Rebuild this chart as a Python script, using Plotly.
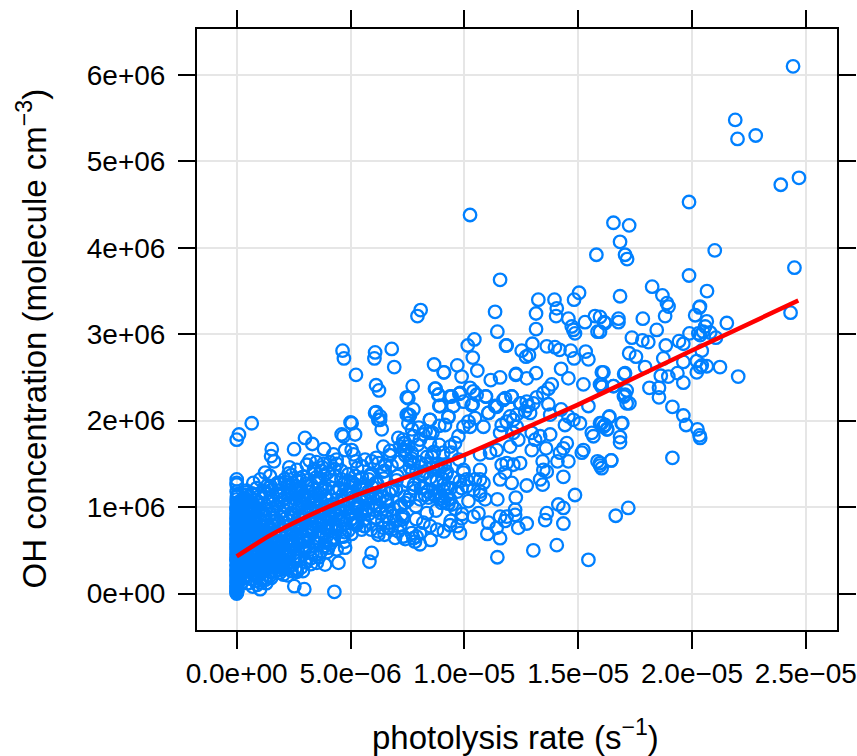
import plotly.graph_objects as go

# values in units of 1e-6 s-1 (rate) and 1e6 molecule cm-3 (OH)
rate_high = [24.44,21.9,22.0,22.8,23.9,24.7,19.87,16.55,17.24,16.84,17.06,17.15,21.0,24.5,19.87,15.8,18.25,18.7,18.9,18.97,16.84,20.66,20.35,
24.33,21.53,20.33,20.14,20.65,20.58,19.89,20.28,20.49,20.8,21.05,20.36,18.82,18.45,17.84,16.77,16.77,16.18,15.96,15.96,17.36,17.82,18.08,17.24,17.54,18.85,19.43,19.62,20.43,18.74,17.94,17.06,16.11,19.62,20.21,20.43,20.65,21.23,22.03,20.21,20.36,19.36,18.96,18.63,19.62,18.13,18.55,18.55,16.55,17.13,17.01,17.25,16.03,19.14,19.62,19.74,20.24,20.33,20.36,16.94,16.36,16.18,16.28,16.03,16.84,16.84,19.14,16.45,15.96,16.03]
oh_high = [6.10,5.48,5.26,5.30,4.73,4.81,4.53,4.29,4.26,4.07,3.92,3.87,3.97,3.77,3.68,3.92,3.55,3.45,3.36,3.32,3.44,3.50,3.32,
3.25,3.13,3.31,3.22,3.15,3.09,3.01,3.01,3.03,3.02,2.96,2.99,3.21,3.05,3.18,3.18,3.14,3.13,3.03,3.20,2.96,2.93,2.91,2.78,2.74,2.87,2.92,2.89,2.81,2.72,2.62,2.55,2.56,2.68,2.69,2.64,2.63,2.62,2.51,2.56,2.62,2.55,2.51,2.52,2.44,2.38,2.38,2.27,2.40,2.35,2.28,2.20,2.42,2.16,2.06,1.95,1.90,1.83,1.80,1.97,2.04,1.95,1.90,1.97,1.81,1.75,1.57,1.54,1.51,1.45]

rate_mid = [15.04,14.82,13.25,13.96,14.06,14.03,13.15,13.15,11.35,11.45,14.57,14.72,14.79,14.86,15.3,15.74,15.85,16.14,11.86,10.44,10.15,10.37,10.57,9.88,9.69,9.09,8.67,7.73,8.08,7.94,11.57,12.99,12.52,12.84,12.71,13.62,13.98,14.18,14.67,14.82,15.33,15.45,14.25,14.57,15.23,16.04,15.96,16.04,16.55,17.02,17.06,17.13,13.15,12.74,12.26,11.57,11.16,13.84,13.69,13.47,13.18,12.08,11.79,10.95,10.25,10.54,9.78,9.37,8.74,8.86,8.9,9.52,10.37,11.35,11.06,12.48,12.74,12.81,13.03,12.67,12.89,12.30,12.01,13.69,13.77,14.25,15.45,7.54,7.76,7.61,8.49,9.30,9.15,10.47,10.18,9.96,10.25,10.84,11.64,11.86,12.15,12.30,11.57,12.15,12.96,13.11,13.33,13.77,14.42,14.57,14.79,15.08,15.6,15.67,15.96,16.11,16.26,16.37,16.91,14.5,14.35,14.2,13.59,12.96,15.23,15.16,14.57,14.09,13.44,13.47,13.62,14.35,13.33,13.44,12.74,15.85,15.96,16.45,14.86,12.26,11.45,14.13,14.35,13.62,13.55,14.35,12.74,12.23,12.23,11.86,11.57,12.37,11.79,11.06,11.01,11.42,11.57,11.45,13.03,14.06,15.45,16.65,17.2]
oh_mid = [3.48,3.40,3.40,3.40,3.30,3.21,3.24,3.06,3.26,3.03,3.18,3.09,3.05,3.01,3.14,3.21,3.03,3.14,2.87,2.94,2.87,2.73,2.58,2.51,2.64,2.56,2.65,2.40,3.28,3.21,3.63,2.89,2.81,2.76,2.74,2.86,2.85,2.82,2.81,2.72,2.80,2.71,2.60,2.49,2.42,2.56,2.42,2.39,2.40,2.54,2.30,2.20,2.55,2.49,2.53,2.50,2.47,2.42,2.37,2.32,2.27,2.28,2.26,2.28,2.38,2.30,2.31,2.28,2.37,2.30,2.17,2.17,2.19,2.17,2.09,2.20,2.22,2.17,2.20,2.11,2.09,2.07,2.05,2.19,2.07,2.13,2.17,2.26,2.13,2.06,2.01,2.04,1.95,2.03,1.99,1.93,1.93,1.93,1.95,1.99,2.01,1.93,1.86,1.86,1.86,1.78,1.82,1.84,1.95,2.05,2.01,1.97,1.86,1.82,1.97,1.93,1.90,2.05,1.97,1.74,1.68,1.63,1.68,1.66,1.66,1.63,1.53,1.53,1.53,1.43,1.41,1.35,1.32,1.26,1.25,1.53,1.48,1.54,1.14,1.11,1.09,1.03,0.99,0.93,0.85,0.81,0.81,0.97,0.91,0.89,0.89,0.76,0.84,0.82,0.69,0.76,0.64,0.42,0.50,0.56,0.39,0.90,0.99]

rate_cluster = [9.0,8.85,9.08,9.23,8.9,9.1,9.37,8.7,9.0,9.45,9.88,9.96,10.1,10.69,10.69,10.47,10.84,10.69,10.91,10.18,9.88,9.37,9.81,10.4,10.62,8.35,7.88,8.52,8.05,7.83,7.69,8.05,7.32,7.76,7.9,7.61,8.05,8.27,7.39,7.18,7.32,11.86,12.15,12.45,11.64,11.79,12.08,11.57,11.13,10.69,11.42,12.01,12.37,9.59,9.74,9.37,9.08,8.9,8.49,8.2,8.05,8.49,7.76,7.32,8.64,7.69,7.61,7.39,7.76,8.79,9.23,9.08,8.79,9.96,10.69,7.76,8.2]
oh_cluster = [1.13,1.17,1.19,1.13,1.09,1.07,1.09,1.13,1.05,1.03,1.22,1.40,1.32,1.43,1.32,1.32,1.28,1.14,1.09,1.07,0.87,0.79,0.70,0.89,0.93,0.93,0.86,0.62,0.57,0.60,0.70,0.70,0.66,0.64,0.66,1.13,1.09,1.14,1.05,1.01,0.89,1.51,1.49,1.51,1.49,1.40,1.28,1.32,1.63,1.61,1.66,1.70,1.78,1.74,1.82,1.70,1.63,1.72,1.86,1.84,1.78,1.74,1.82,1.78,1.63,1.63,1.53,1.66,1.51,1.49,1.41,1.32,1.32,1.43,1.18,1.22,1.22]

rate_upper = [10.25,11.83,4.65,4.71,5.24,6.08,6.05,6.81,6.92,9.11,12.27,6.12,6.25,8.71,8.86,7.47,6.12,6.3,7.54,5.0,8.49,9.3,10.4,9.44,9.81,8.93,9.96,10.32,10.94,11.71,12.08,12.45,11.05,11.42]
oh_upper = [4.38,2.87,2.81,2.72,2.53,2.79,2.72,2.83,2.62,2.56,2.54,2.41,2.35,2.37,2.30,2.27,2.10,2.05,2.07,1.98,2.01,2.05,2.34,2.28,2.32,2.17,2.22,2.18,2.28,2.24,2.28,2.20,2.09,2.16]

rate_left = [0.66,0.1,0.0,0.0,0.0,0.0,0.0,0.73,0.88,1.25,1.03,1.54,1.51,1.64,3.0,3.32,2.52,3.84,2.31,3.08,2.64,3.76,4.25,4.39,4.61,4.69,5.05,5.2,4.76,5.05,5.13,5.64,5.93,6.22,6.52,6.08,6.3,6.22,6.44,6.74,7.1,7.32,7.18,7.54,7.47,7.54,6.37,
4.29,2.97,2.53,1.03,2.64,2.05,5.83,5.93,4.47,3.88,3.52,3.0,4.76,4.39,6.96,7.4,6.22,6.44,6.66,6.59,6.15,7.32,5.49,5.64,5.2,5.27,4.69,3.81,3.95,4.25,3.88,4.54,3.08,2.93,3.22,2.56,2.2,1.9,2.05]
oh_left = [1.97,1.84,1.78,1.32,1.26,1.28,1.09,1.28,1.22,1.40,1.32,1.67,1.59,1.53,1.80,1.73,1.67,1.67,1.46,1.49,1.43,1.46,1.61,1.55,1.84,1.82,1.97,1.84,1.66,1.66,1.61,1.55,1.53,1.51,1.49,2.09,2.01,2.01,1.70,1.65,1.80,1.74,1.70,1.70,2.07,1.97,1.90,
0.02,0.05,0.085,0.05,0.25,0.22,0.37,0.47,0.355,0.335,0.355,0.37,0.53,0.51,0.645,0.63,0.68,0.76,0.76,0.89,1.02,0.89,0.74,0.78,0.82,0.99,0.66,0.84,0.66,0.62,0.59,0.78,0.68,0.51,0.51,0.51,0.47,0.36,0.28]

rate_column = [0.0,0.01,0.0,0.02,0.0,0.03,0.01,0.0,0.05,0.02,0.0,0.04,0.01,0.0,0.08,0.03,0.0,0.05,0.02,0.0,0.1,0.01,0.0,0.06,0.03,0.0,0.12,0.02,0.0,0.07,0.04,0.0,0.09,0.01,0.0,0.15,0.03,0.0,0.05,0.02,0.0,0.11,0.06,0.0,0.02,0.08,0.0,0.04,0.13,0.0,0.03,0.07,0.0,0.16,0.01,0.05,0.0,0.09,0.02,0.0,0.2,0.18,0.22,0.25,0.3,0.28,0.33,0.19,0.24,0.27,0.31,0.21,0.35,0.26,
0.0,0.02,0.0,0.01,0.03,0.0,0.01,0.04,0.0,0.02,0.0,0.05,0.01,0.0,0.03,0.0,0.02,0.06,0.0,0.01,0.0,0.04,0.02,0.0,0.03,0.01,0.0,0.07,0.0,0.02,0.01,0.0,0.05,0.0,0.03,0.01,0.0,0.02,0.06,0.0,0.04,0.01,0.0,0.02,0.0,0.03,0.08,0.0,0.01,0.0]
oh_column = [0.0,0.02,0.04,0.06,0.09,0.11,0.13,0.15,0.17,0.19,0.21,0.23,0.25,0.27,0.29,0.31,0.33,0.35,0.37,0.39,0.41,0.43,0.45,0.47,0.49,0.51,0.53,0.55,0.57,0.59,0.61,0.63,0.65,0.67,0.69,0.71,0.73,0.75,0.77,0.79,0.81,0.83,0.85,0.87,0.89,0.91,0.93,0.95,0.97,0.99,1.01,1.03,1.05,1.07,1.12,1.15,1.18,0.14,0.03,0.08,0.12,0.22,0.31,0.40,0.52,0.62,0.72,0.84,0.93,1.01,0.18,0.58,0.78,1.09,
0.01,0.03,0.05,0.07,0.1,0.12,0.14,0.16,0.18,0.2,0.22,0.24,0.26,0.28,0.3,0.32,0.34,0.36,0.38,0.4,0.42,0.44,0.46,0.48,0.5,0.52,0.54,0.56,0.58,0.6,0.62,0.64,0.66,0.68,0.7,0.72,0.74,0.76,0.78,0.8,0.82,0.84,0.86,0.88,0.9,0.92,0.94,0.96,0.98,1.0]

rate_low = [0.5,0.7,0.9,0.6,0.8,1.1,1.3,0.55,0.75,1.0,1.2,1.45,0.65,0.85,1.05,1.25,1.5,1.7,0.5,0.7,0.95,1.15,1.4,1.6,1.85,0.6,0.8,1.0,1.3,1.55,1.8,2.0,0.55,0.75,1.1,1.35,1.65,1.9,2.15,0.5,0.7,0.9,1.2,1.5,1.75,2.05,2.3,0.6,0.85,1.15,1.45,1.7,1.95,2.25,2.5,0.55,0.8,1.05,1.35,1.6,1.9,2.2,2.45,2.7,0.65,0.95,1.25,1.55,1.85,2.1,2.4,2.65,2.9,0.7,1.0,1.3,1.6,1.95,2.3,2.6,2.85,3.1,1.1,1.4,1.75,2.1,2.45,2.75,3.05,3.35,1.2,1.6,2.0,2.35,2.7,3.0,3.3,3.6,1.5,1.9,2.25,2.6,2.95,3.25,3.55,3.85,1.8,2.2,2.55,2.85,3.15,3.45,3.75,4.05,2.1,2.45,2.8,3.1,3.4,3.7,4.0,4.3,2.4,2.75,3.05,3.35,3.65,3.95,4.25,4.55]
oh_low = [0.12,0.08,0.1,0.25,0.22,0.16,0.12,0.36,0.33,0.29,0.26,0.2,0.45,0.42,0.38,0.34,0.3,0.26,0.55,0.53,0.48,0.44,0.4,0.36,0.32,0.64,0.61,0.57,0.52,0.48,0.44,0.38,0.72,0.69,0.64,0.6,0.56,0.52,0.44,0.8,0.77,0.73,0.69,0.65,0.61,0.56,0.5,0.86,0.83,0.78,0.74,0.7,0.66,0.61,0.56,0.93,0.9,0.86,0.82,0.78,0.73,0.68,0.64,0.58,0.99,0.95,0.91,0.87,0.82,0.78,0.73,0.69,0.62,1.05,1.02,0.98,0.94,0.89,0.84,0.79,0.75,0.68,1.1,1.06,1.01,0.96,0.91,0.86,0.81,0.74,1.18,1.13,1.08,1.03,0.98,0.93,0.88,0.8,1.24,1.19,1.14,1.09,1.04,0.98,0.93,0.86,1.28,1.24,1.19,1.13,1.08,1.03,0.97,0.9,1.32,1.28,1.23,1.18,1.12,1.07,1.01,0.94,1.37,1.33,1.27,1.22,1.16,1.1,1.04,0.98]

rate_fill = [0.31,0.47,0.38,0.62,0.44,0.29,0.53,0.71,0.36,0.58,0.83,0.42,0.67,0.94,0.33,0.51,0.77,1.02,0.46,0.64,0.89,1.13,0.37,0.56,0.79,1.07,1.26,0.41,0.69,0.92,1.18,1.37,0.34,0.59,0.84,1.09,1.33,1.52,0.48,0.73,0.97,1.22,1.47,1.68,0.39,0.63,0.88,1.16,1.41,1.62,1.83,0.52,0.78,1.04,1.29,1.57,1.79,2.02,0.43,0.68,0.93,1.21,1.49,1.73,1.97,2.22,0.57,0.82,1.12,1.38,1.66,1.91,2.17,2.41,0.74,1.01,1.31,1.59,1.87,2.12,2.37,2.63,0.86,1.17,1.44,1.76,2.04,2.31,2.58,2.83,1.27,1.63,1.94,2.27,2.52,2.79,3.04,1.54,1.82,2.16,2.48,2.74,2.98,3.27,1.71,2.08,2.39,2.67,2.93,3.19,3.47,2.28,2.59,2.87,3.13,3.42,3.71,2.44,2.76,3.02,3.29,3.58,3.88,2.66,2.96,3.23,3.52,3.81,4.12,3.11,3.37,3.67,3.94,4.23,3.48,3.77,4.07,4.36,4.63,3.59,3.92,4.18,4.47,4.74,1.35,1.74,2.13,2.56,2.91,3.24,3.63,1.46,1.88,2.29,2.71,3.09,3.44,3.86,4.21]
oh_fill = [0.19,0.27,0.41,0.17,0.59,0.67,0.31,0.23,0.74,0.47,0.15,0.83,0.39,0.21,0.89,0.56,0.28,0.13,0.96,0.63,0.44,0.18,1.03,0.71,0.51,0.24,0.16,1.08,0.79,0.35,0.29,0.21,1.11,0.86,0.57,0.41,0.33,0.25,0.98,0.75,0.62,0.46,0.37,0.31,1.14,0.92,0.68,0.53,0.42,0.35,0.27,1.06,0.84,0.72,0.58,0.46,0.39,0.3,1.17,0.96,0.77,0.63,0.51,0.43,0.34,0.29,1.12,0.88,0.7,0.57,0.47,0.41,0.33,0.26,1.01,0.85,0.67,0.53,0.45,0.39,0.32,0.27,1.08,0.91,0.76,0.59,0.5,0.43,0.38,0.3,1.15,0.83,0.69,0.56,0.47,0.42,0.36,1.2,1.04,0.87,0.71,0.6,0.52,0.41,1.26,1.1,0.93,0.78,0.65,0.54,0.45,1.19,1.02,0.85,0.72,0.6,0.49,1.25,1.08,0.92,0.77,0.64,0.55,1.3,1.14,0.99,0.83,0.7,0.58,1.24,1.07,0.89,0.75,0.62,1.34,1.19,0.96,0.8,0.66,1.29,1.13,1.0,0.86,0.71,1.25,1.16,1.29,1.21,1.35,1.12,1.33,1.36,1.27,1.39,1.19,1.31,1.41,1.37,1.22]

rate_extra = [0.42,0.66,0.97,1.24,1.58,1.93,2.26,2.61,2.94,3.28,3.57,3.89,4.16,4.52,4.84,5.11,5.42,5.78,0.51,0.81,1.14,1.47,1.72,2.07,2.43,2.72,3.07,3.38,3.74,4.03,4.34,4.68,4.97,5.33,5.66,5.99,0.36,0.72,1.06,1.39,1.64,1.99,2.34,2.69,3.01,3.31,3.63,3.96,4.27,4.58,4.91,5.26,5.59,0.58,0.91,1.23,1.56,1.84,2.19,2.53,2.86,3.17,3.49,3.83,4.14,4.44,4.77,5.09,5.47,0.44,0.76,1.09,1.41,1.77,2.11,2.46,2.78,3.12,3.45,3.79,4.09,4.41,4.73,5.04,0.63,0.98,1.32,1.67,2.01,2.36,2.68,2.99,3.33,3.68,4.02,4.32,1.51,1.89,2.24,2.57,2.91,3.26,3.61,3.97]
oh_extra = [1.19,1.16,1.12,1.18,1.08,1.14,1.05,1.19,1.11,1.26,1.14,1.22,1.31,1.2,1.16,1.28,1.23,1.18,0.81,0.72,0.66,0.92,0.61,0.78,0.68,0.88,0.73,0.95,0.82,1.02,0.9,1.07,0.93,1.01,0.97,1.1,0.34,0.48,0.37,0.55,0.43,0.59,0.47,0.63,0.54,0.71,0.58,0.77,0.64,0.84,0.73,0.79,0.85,0.95,1.05,0.84,0.98,0.81,1.0,0.91,1.03,0.86,1.08,0.96,0.76,0.98,0.81,0.87,0.92,0.52,0.61,0.49,0.68,0.53,0.74,0.57,0.79,0.62,0.87,0.69,0.92,0.74,0.6,0.69,0.28,0.33,0.43,0.38,0.49,0.55,0.41,0.6,0.46,0.66,0.53,0.72,0.18,0.24,0.21,0.29,0.26,0.34,0.42,0.48]

rate_centre = [4.4,4.7,5.0,5.3,5.6,5.9,6.2,6.5,6.8,7.1,4.6,4.9,5.2,5.5,5.8,6.1,6.4,6.7,7.0,7.3,4.5,4.8,5.1,5.4,5.7,6.0,6.3,6.6,6.9,7.2,4.3,4.6,4.9,5.2,5.5,5.8,6.1,6.4,6.7,7.0,3.4,3.7,4.0,4.3,4.6,4.9,5.2,5.5,5.8,6.1,3.2,3.5,3.8,4.1,4.4,8.2,8.5,8.8,9.1,9.4,9.7,7.5,7.8,8.1,8.4,8.7,9.0,9.3,9.6,9.9,7.6,7.9,8.2,8.5,8.8,9.1,9.4,9.7,7.4,7.7,8.0,8.3,8.6,8.9,9.2,9.5,9.8,10.1,10.4,6.5,6.8,7.1,7.4,7.7,8.0,8.3,8.6,8.9,
4.83,5.16,5.47,5.74,6.03,6.31,6.62,6.88,7.19,4.37,4.72,5.08,5.36,5.67,5.96,6.27,6.54,6.85,7.24,7.52,7.87,8.14,8.43,8.76,5.01,5.29,5.61,5.89,6.17,6.46,6.79,7.06,7.38,7.71,8.03,8.36,8.67,8.98,9.27,5.23,5.53,5.84,6.13,6.43,6.73,7.02,7.33,7.64,7.95,8.26,8.57,9.14,9.43,9.76]
oh_centre = [0.92,0.88,0.85,0.82,0.78,0.74,0.72,0.68,0.74,0.72,1.08,1.04,1.0,0.96,0.92,0.88,0.84,0.82,0.84,0.86,1.22,1.2,1.16,1.12,1.08,1.04,1.0,0.96,0.98,1.02,1.36,1.32,1.3,1.26,1.22,1.18,1.14,1.12,1.16,1.2,1.44,1.42,1.4,1.44,1.42,1.38,1.36,1.34,1.32,1.28,1.54,1.52,1.5,1.52,1.5,0.82,0.78,0.74,0.72,0.84,0.78,1.3,1.26,1.22,1.18,1.14,1.1,1.04,0.98,0.92,1.46,1.42,1.38,1.34,1.3,1.26,1.22,1.18,1.6,1.56,1.52,1.5,1.46,1.42,1.38,1.34,1.3,1.24,1.2,1.42,1.48,1.52,1.74,1.9,1.92,1.88,1.86,1.94,
0.99,0.94,0.91,1.13,0.97,0.93,1.06,0.9,0.79,1.17,1.27,1.11,1.03,0.95,1.23,1.09,1.07,1.21,0.91,1.08,1.01,1.37,1.11,0.96,1.29,1.45,1.24,1.38,1.27,1.33,1.2,1.36,1.12,1.41,1.29,1.58,1.64,1.47,1.22,1.53,1.47,1.36,1.57,1.41,1.6,1.31,1.66,1.53,1.72,1.41,1.58,1.49,1.63,1.55]

fit_rate = [0.0,1.38,3.0,5.12,7.6,9.97,12.3,14.95,17.28,19.9,24.67]
fit_oh = [0.43,0.66,0.88,1.125,1.36,1.6,1.87,2.18,2.47,2.8,3.39]

x_ticks = [0, 5e-6, 1e-5, 1.5e-5, 2e-5, 2.5e-5]
x_labels = ["0.0e+00", "5.0e\u221206", "1.0e\u221205", "1.5e\u221205", "2.0e\u221205", "2.5e\u221205"]
y_ticks = [0, 1e6, 2e6, 3e6, 4e6, 5e6, 6e6]
y_labels = ["0e+00", "1e+06", "2e+06", "3e+06", "4e+06", "5e+06", "6e+06"]

rate = rate_column + rate_low + rate_fill + rate_extra + rate_centre + rate_cluster + rate_left + rate_upper + rate_mid + rate_high
oh = oh_column + oh_low + oh_fill + oh_extra + oh_centre + oh_cluster + oh_left + oh_upper + oh_mid + oh_high
assert len(rate) == len(oh), (len(rate), len(oh))

FONT = "Liberation Sans"
fig = go.Figure()
fig.add_trace(go.Scatter(
    x=[v * 1e-6 for v in rate], y=[v * 1e6 for v in oh], mode="markers",
    marker=dict(symbol="circle-open", size=12.5, color="#0080ff", line=dict(width=2.3, color="#0080ff")),
    showlegend=False, cliponaxis=False))
fig.add_trace(go.Scatter(
    x=[v * 1e-6 for v in fit_rate], y=[v * 1e6 for v in fit_oh], mode="lines",
    line=dict(color="#ff0000", width=4.5, shape="spline", smoothing=0.5), showlegend=False))

axis_common = dict(automargin=False, showline=True, linecolor="black", linewidth=2, mirror="ticks", ticks="outside",
                   ticklen=17, tickwidth=2, tickcolor="black", showgrid=True, gridcolor="#e6e6e6",
                   gridwidth=2, zeroline=False, tickfont=dict(family=FONT, size=28, color="black"))
fig.update_layout(
    width=857, height=756, autosize=False, paper_bgcolor="white", plot_bgcolor="white",
    margin=dict(l=197, r=20, t=29, b=125.5), font=dict(family=FONT, color="black"),
    xaxis=dict(range=[-1.744e-6, 26.37e-6], tickmode="array", tickvals=x_ticks, ticktext=x_labels, **axis_common),
    yaxis=dict(range=[-0.422e6, 6.532e6], tickmode="array", tickvals=y_ticks, ticktext=y_labels,
               ticklabelstandoff=7, **axis_common),
    annotations=[
        dict(text="photolysis rate (s<sup>\u22121</sup>)", xref="paper", yref="paper", x=0.497, y=-0.175,
             xanchor="center", yanchor="middle", showarrow=False, font=dict(family=FONT, size=33, color="black")),
        dict(text="OH concentration (molecule cm<sup>\u22123</sup>)", xref="paper", yref="paper", x=-0.258, y=0.485,
             xanchor="center", yanchor="middle", textangle=-90, showarrow=False, font=dict(family=FONT, size=33, color="black")),
    ],
)
fig.write_html("out.html", default_width="857px", default_height="756px",
               config={"displayModeBar": False},
               post_script="document.body.style.margin='0';")
